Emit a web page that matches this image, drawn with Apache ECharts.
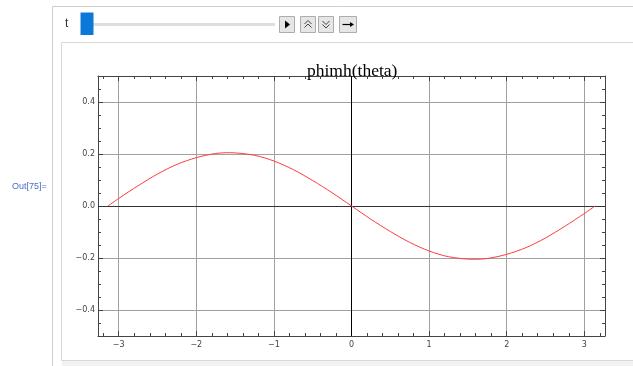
<!DOCTYPE html>
<html>
<head>
<meta charset="utf-8">
<script src="https://cdn.jsdelivr.net/npm/echarts@6/dist/echarts.min.js"></script>
<style>
html,body{margin:0;padding:0;background:#fff;}
#chart{width:633px;height:366px;}
</style>
</head>
<body>
<div id="chart"></div>
<script>
// ---- data ----
const theta = [-3.14,-3.0,-2.75,-2.5,-2.25,-2.0,-1.75,-1.57,-1.25,-1.0,-0.75,-0.5,-0.25,0,
               0.25,0.5,0.75,1.0,1.25,1.57,1.75,2.0,2.25,2.5,2.75,3.0,3.14];
const phimh = [0.000,0.029,0.078,0.123,0.160,0.186,0.202,0.205,0.195,0.173,0.140,0.098,0.051,0,
               -0.051,-0.098,-0.140,-0.173,-0.195,-0.205,-0.202,-0.186,-0.160,-0.123,-0.078,-0.029,0.000];
const xTicks = [-3,-2,-1,0,1,2,3];
const yTicks = [-0.4,-0.2,0.0,0.2,0.4];
const titleText = 'phimh(theta)';
const outLabel = 'Out[75]=';
const sliderLabel = 't';

// ---- ranges / minor ticks ----
const xMin = -3.267, xMax = 3.267, yMin = -0.5, yMax = 0.5;
const xMinor = [];
for (let i = -16; i <= 16; i++) { if (i % 5 !== 0) xMinor.push(+(i * 0.2).toFixed(2)); }
const yMinor = [];
for (let i = -9; i <= 9; i++) { if (i % 4 !== 0) yMinor.push(+(i * 0.05).toFixed(2)); }

const fmtMinus = s => s.replace('-', '\u2212');
const axisCol = '#444';
const labelStyle = {fontFamily: 'DejaVu Sans', fontSize: 8, color: '#444'};

function xAx(pos, ticks, len, showLine, showLabel, split) {
  return {
    type: 'value', min: xMin, max: xMax, position: pos,
    axisLine: {show: showLine, onZero: false, lineStyle: {color: axisCol, width: 1}},
    axisTick: {show: true, inside: true, length: len, customValues: ticks, lineStyle: {color: axisCol, width: 1}},
    axisLabel: Object.assign({show: showLabel, customValues: xTicks, margin: 5,
      formatter: v => fmtMinus(String(v))}, labelStyle),
    splitLine: {show: split, lineStyle: {color: '#a0a0a0', width: 1}},
    minorTick: {show: false}
  };
}
function yAx(pos, ticks, len, showLine, showLabel, split) {
  return {
    type: 'value', min: yMin, max: yMax, position: pos,
    axisLine: {show: showLine, onZero: false, lineStyle: {color: axisCol, width: 1}},
    axisTick: {show: true, inside: true, length: len, customValues: ticks, lineStyle: {color: axisCol, width: 1}},
    axisLabel: Object.assign({show: showLabel, customValues: yTicks, margin: 3,
      formatter: v => fmtMinus(Number(v).toFixed(1))}, labelStyle),
    splitLine: {show: split, lineStyle: {color: '#a0a0a0', width: 1}},
    minorTick: {show: false}
  };
}

const btnStyle = {fill: '#e6e6e6', stroke: '#adadad', lineWidth: 1};
const iconStroke = {stroke: '#444', lineWidth: 1, fill: 'none'};

const chart = echarts.init(document.getElementById('chart'), null, {renderer: 'canvas'});
chart.setOption({
  animation: false,
  backgroundColor: '#fff',
  title: {
    text: titleText, left: 302, top: 57,
    textStyle: {fontFamily: 'Liberation Serif', fontSize: 17.5, fontWeight: 'normal', color: '#000'}
  },
  grid: {left: 98, right: 28, top: 76, bottom: 30, containLabel: false},
  xAxis: [
    xAx('bottom', xTicks, 5, true, true, true),
    xAx('bottom', xMinor, 3, false, false, false),
    xAx('top', xTicks, 5, true, false, false),
    xAx('top', xMinor, 3, false, false, false)
  ],
  yAxis: [
    yAx('left', yTicks, 5, true, true, true),
    yAx('left', yMinor, 3, false, false, false),
    yAx('right', yTicks, 5, true, false, false),
    yAx('right', yMinor, 3, false, false, false)
  ],
  series: [{
    type: 'line', xAxisIndex: 0, yAxisIndex: 0,
    data: theta.map((t, i) => [t, phimh[i]]),
    smooth: 0.3, showSymbol: false, symbol: 'none',
    lineStyle: {color: '#ff3c3c', width: 1},
    z: 5,
    markLine: {
      silent: true, symbol: ['none', 'none'], label: {show: false},
      data: [
        {xAxis: 0, lineStyle: {color: '#000', type: 'solid', width: 1}},
        {yAxis: 0, lineStyle: {color: '#333', type: 'solid', width: 1}}
      ]
    }
  }],
  graphic: [
    // outer manipulate frame
    {type: 'line', shape: {x1: 52.5, y1: 6.5, x2: 640, y2: 6.5}, style: {stroke: '#cfcfcf', lineWidth: 1}, z: -1},
    {type: 'line', shape: {x1: 52.5, y1: 6.5, x2: 52.5, y2: 370}, style: {stroke: '#cfcfcf', lineWidth: 1}, z: -1},
    // inner panel
    {type: 'rect', shape: {x: 61.5, y: 42.5, width: 600, height: 318}, style: {fill: 'none', stroke: '#d8d8d8', lineWidth: 1}, z: -1},
    {type: 'rect', shape: {x: 62, y: 361, width: 600, height: 6}, style: {fill: '#f2f2f2'}, z: -1},
    // slider
    {type: 'text', x: 65, y: 24, style: {text: sliderLabel, fontFamily: 'Liberation Sans', fontSize: 12, fill: '#333', verticalAlign: 'middle'}},
    {type: 'rect', shape: {x: 93, y: 23, width: 182, height: 3}, style: {fill: '#dedede'}},
    {type: 'rect', shape: {x: 80.5, y: 12.5, width: 13, height: 22.5}, style: {fill: '#0a78d8'}},
    // play button
    {type: 'rect', shape: {x: 279.5, y: 16.5, width: 15, height: 16}, style: btnStyle},
    {type: 'polygon', shape: {points: [[285, 20.5], [285, 28.5], [290, 24.5]]}, style: {fill: '#000'}},
    // faster button
    {type: 'rect', shape: {x: 300.5, y: 16.5, width: 15, height: 16}, style: btnStyle},
    {type: 'polyline', shape: {points: [[304.5, 24], [308, 20.5], [311.5, 24]]}, style: iconStroke},
    {type: 'polyline', shape: {points: [[304.5, 27.5], [308, 24], [311.5, 27.5]]}, style: iconStroke},
    // slower button
    {type: 'rect', shape: {x: 318.5, y: 16.5, width: 15, height: 16}, style: btnStyle},
    {type: 'polyline', shape: {points: [[322.5, 21], [326, 24.5], [329.5, 21]]}, style: iconStroke},
    {type: 'polyline', shape: {points: [[322.5, 24.5], [326, 28], [329.5, 24.5]]}, style: iconStroke},
    // direction button
    {type: 'rect', shape: {x: 339.5, y: 16.5, width: 17, height: 16}, style: btnStyle},
    {type: 'line', shape: {x1: 342.5, y1: 24.5, x2: 352, y2: 24.5}, style: {stroke: '#000', lineWidth: 1.2}},
    {type: 'polygon', shape: {points: [[350, 22], [354, 24.5], [350, 27]]}, style: {fill: '#000'}},
    // Out label
    {type: 'text', x: 12, y: 187, style: {text: outLabel, fontFamily: 'Liberation Sans', fontSize: 9, fill: '#4a6cc4', verticalAlign: 'middle'}}
  ]
});
</script>
</body>
</html>
